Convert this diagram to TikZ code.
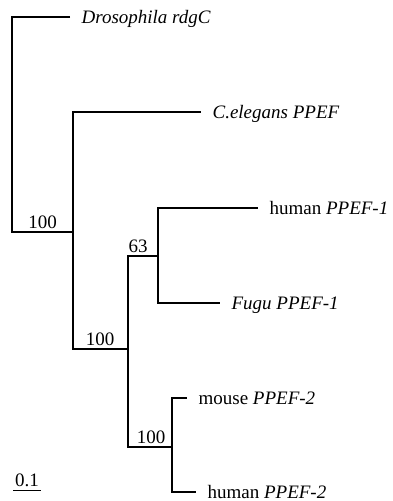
\documentclass[tikz,border=0pt]{standalone}
\usepackage{fontspec}
\setmainfont{Liberation Serif}
\usetikzlibrary{calc}

\begin{document}
\begin{tikzpicture}[x=1pt,y=-1pt,line width=1.2pt,
   font=\fontsize{19}{22}\selectfont,
   leaf/.style={anchor=west,inner ysep=0pt,inner xsep=11pt,text height=12pt,text depth=0pt},
   boot/.style={anchor=south,inner sep=0pt,yshift=3pt}]
% Fix the page to the size of the figure
   \useasboundingbox (0,0) rectangle (393,501);
% Inner nodes of the tree
   \coordinate (r)  at (12,232);
   \coordinate (nA) at (73,232);
   \coordinate (nB) at (128,349);
   \coordinate (nC) at (158,256);
   \coordinate (nD) at (172,447);
% Leaves
   \node [leaf] (dros)  at (70,17)   {\textit{Drosophila rdgC}};
   \node [leaf] (cel)   at (201,112) {\textit{C.elegans PPEF}};
   \node [leaf] (hum1)  at (258,208) {human \textit{PPEF-1}};
   \node [leaf] (fugu)  at (220,303) {\textit{Fugu PPEF-1}};
   \node [leaf] (mouse) at (187,398) {mouse \textit{PPEF-2}};
   \node [leaf] (hum2)  at (196,492) {human \textit{PPEF-2}};
% Branches
   \draw (dros.west) -| (r) -- (nA);
   \draw (nA) |- (cel.west);
   \draw (nA) |- (nB);
   \draw (nB) |- (nC);
   \draw (nB) |- (nD);
   \draw (nC) |- (hum1.west);
   \draw (nC) |- (fugu.west);
   \draw (nD) |- (mouse.west);
   \draw (nD) |- (hum2.west);
% Bootstrap values
   \node [boot] (bA) at ($(r)!.5!(nA)$) {100};
   \node [boot] (bB) at (100,349) {100};
   \node [boot] (bC) at (138,256) {63};
   \node [boot] (bD) at (151,447) {100};
% Scale bar
   \coordinate (s0) at (13,490);
   \coordinate (s1) at (41,490);
   \draw [line width=.8pt] (s0) -- (s1) node [midway,boot] (sc) {0.1};
\end{tikzpicture}
\end{document}
